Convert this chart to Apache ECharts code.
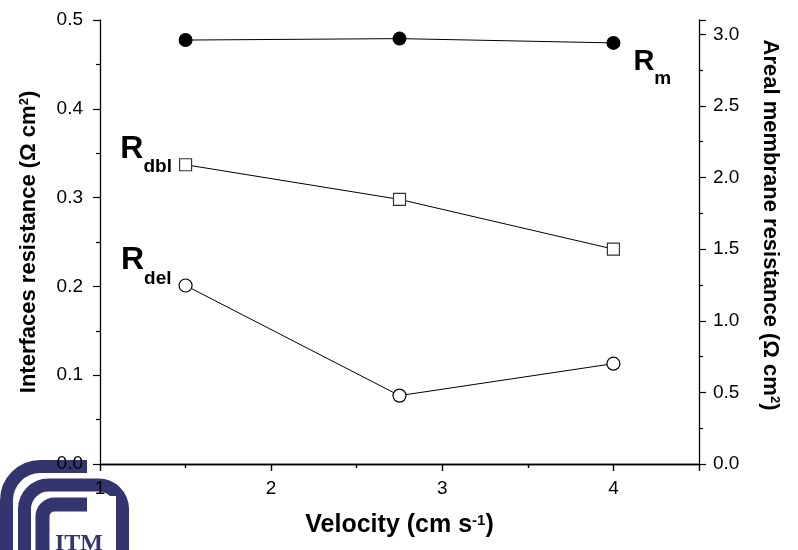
<!DOCTYPE html>
<html>
<head>
<meta charset="utf-8">
<script src="https://cdn.jsdelivr.net/npm/echarts@6/dist/echarts.min.js"></script>
<style>
html, body { margin: 0; padding: 0; background: #fff; }
#chart { width: 798px; height: 550px; }
</style>
</head>
<body>
<div id="chart"></div>
<script>
// data
var velocity = [1.5, 2.75, 4.0];
var rDbl = [0.337, 0.298, 0.242];   // left axis
var rDel = [0.201, 0.077, 0.113];   // left axis
var rM = [2.96, 2.97, 2.94];        // right axis

var xTicks = { min: 1, max: 4.5, step: 1 };
var yLeft = { min: 0, max: 0.5, step: 0.1 };
var yRight = { min: 0, max: 3.1, step: 0.5 };

var FONT = '"Liberation Sans", Arial, sans-serif';
var NAVY = '#34356f';

function pairs(ys) {
    var out = [];
    for (var i = 0; i < velocity.length; i++) {
        out.push([velocity[i], ys[i]]);
    }
    return out;
}

// R label styles (big R + subscript)
function rRich(big, small, pad) {
    return {
        R: { fontSize: big, fontWeight: 'bold', fontFamily: FONT, color: '#000', lineHeight: big, verticalAlign: 'top' },
        s: { fontSize: small, fontWeight: 'bold', fontFamily: FONT, color: '#000', lineHeight: small, padding: [pad, 0, 0, 0], verticalAlign: 'top' }
    };
}

function withLabel(ys, idx, text, pos, dist, off, rich) {
    var d = pairs(ys);
    d[idx] = {
        value: d[idx],
        label: { show: true, position: pos, distance: dist, offset: off, formatter: text, rich: rich }
    };
    return d;
}

var tickLabel = { color: '#000', fontSize: 19, fontFamily: FONT };
var supStyle = { fontSize: 13, fontWeight: 'bold', fontFamily: FONT, color: '#000', verticalAlign: 'top', lineHeight: 13 };
var nameStyle = { color: '#000', fontSize: 22, fontWeight: 'bold', fontFamily: FONT, rich: { sup: supStyle } };
var axLine = { show: true, lineStyle: { color: '#000', width: 1.3 } };

var chart = echarts.init(document.getElementById('chart'));

var option = {
    backgroundColor: '#fff',
    animation: false,
    grid: { left: 100, right: 99, top: 20, bottom: 86 },
    xAxis: [{
        type: 'value', position: 'bottom',
        min: xTicks.min, max: xTicks.max, interval: xTicks.step,
        name: 'Velocity (cm s{sup|-1})',
        nameLocation: 'middle', nameGap: 49,
        nameTextStyle: Object.assign({}, nameStyle, { fontSize: 25, rich: { sup: Object.assign({}, supStyle, { fontSize: 15, lineHeight: 15 }) } }),
        axisLine: axLine,
        axisTick: { inside: false, length: 7, lineStyle: { color: '#000', width: 1.2 } },
        minorTick: { show: true, splitNumber: 2, length: 4, lineStyle: { color: '#000', width: 1.2 } },
        axisLabel: Object.assign({}, tickLabel, { margin: 15, showMaxLabel: false }),
        splitLine: { show: false }
    }, {
        type: 'value', position: 'top',
        min: xTicks.min, max: xTicks.max, interval: xTicks.step,
        axisLine: axLine,
        axisTick: { inside: true, length: 7, lineStyle: { color: '#000', width: 1.2 } },
        minorTick: { show: true, splitNumber: 2, length: 4, lineStyle: { color: '#000', width: 1.2 } },
        axisLabel: { show: false },
        splitLine: { show: false }
    }],
    yAxis: [{
        type: 'value', position: 'left',
        min: yLeft.min, max: yLeft.max, interval: yLeft.step,
        name: 'Interfaces resistance (Ω cm{sup|2})',
        nameLocation: 'middle', nameRotate: 90, nameGap: 60,
        nameTextStyle: nameStyle,
        axisLine: axLine,
        axisTick: { inside: false, length: 7, lineStyle: { color: '#000', width: 1.2 } },
        minorTick: { show: true, splitNumber: 2, length: 4, lineStyle: { color: '#000', width: 1.2 } },
        axisLabel: Object.assign({}, tickLabel, { margin: 17, formatter: function (v) { return v.toFixed(1); } }),
        splitLine: { show: false }
    }, {
        type: 'value', position: 'right',
        min: yRight.min, max: yRight.max, interval: yRight.step,
        name: 'Areal membrane resistance (Ω cm{sup|2})',
        nameLocation: 'middle', nameRotate: -90, nameGap: 60,
        nameTextStyle: Object.assign({}, nameStyle, { padding: [0, 34, 0, 0] }),
        axisLine: axLine,
        axisTick: { inside: false, length: 7, lineStyle: { color: '#000', width: 1.2 } },
        minorTick: { show: true, splitNumber: 2, length: 4, lineStyle: { color: '#000', width: 1.2 } },
        axisLabel: Object.assign({}, tickLabel, { margin: 14, showMaxLabel: false, formatter: function (v) { return v.toFixed(1); } }),
        splitLine: { show: false }
    }],
    series: [{
        name: 'Rm', type: 'line', xAxisIndex: 0, yAxisIndex: 1,
        data: withLabel(rM, 2, '{R|R}{s|m}', 'right', 13, [0, 19], rRich(29, 19, 22)),
        symbol: 'circle', symbolSize: 14,
        itemStyle: { color: '#000' },
        lineStyle: { color: '#000', width: 1 },
        z: 3
    }, {
        name: 'Rdbl', type: 'line', xAxisIndex: 0, yAxisIndex: 0,
        data: withLabel(rDbl, 0, '{R|R}{s|dbl}', 'left', 7, [0, -16], rRich(32, 19, 25)),
        symbol: 'rect', symbolSize: 12,
        itemStyle: { color: '#fff', borderColor: '#333', borderWidth: 1.2 },
        lineStyle: { color: '#000', width: 1 },
        z: 3
    }, {
        name: 'Rdel', type: 'line', xAxisIndex: 0, yAxisIndex: 0,
        data: withLabel(rDel, 0, '{R|R}{s|del}', 'left', 7, [0, -25], rRich(32, 19, 25)),
        symbol: 'circle', symbolSize: 13,
        itemStyle: { color: '#fff', borderColor: '#000', borderWidth: 1.2 },
        lineStyle: { color: '#000', width: 1 },
        z: 3
    }],
    // institute logo in the lower left corner
    graphic: [
        { type: 'rect', z: -10, shape: { x: 6.5, y: 466.5, width: 300, height: 200, r: 34 }, style: { fill: null, stroke: NAVY, lineWidth: 13 } },
        { type: 'rect', z: -9, shape: { x: 87, y: 452, width: 400, height: 100 }, style: { fill: '#fff' } },
        { type: 'rect', z: -8, shape: { x: 24.5, y: 485, width: 98, height: 200, r: 24 }, style: { fill: null, stroke: NAVY, lineWidth: 13 } },
        { type: 'rect', z: -7, shape: { x: 42.5, y: 504.5, width: 60, height: 200, r: 12 }, style: { fill: null, stroke: NAVY, lineWidth: 14 } },
        { type: 'rect', z: -6, shape: { x: 87, y: 496, width: 29, height: 60 }, style: { fill: '#fff' } },
        { type: 'text', z: -5, left: 55, top: 532, style: { text: 'ITM', font: 'bold 24px "Liberation Serif", serif', fill: NAVY } }
    ]
};

chart.setOption(option);
</script>
</body>
</html>
